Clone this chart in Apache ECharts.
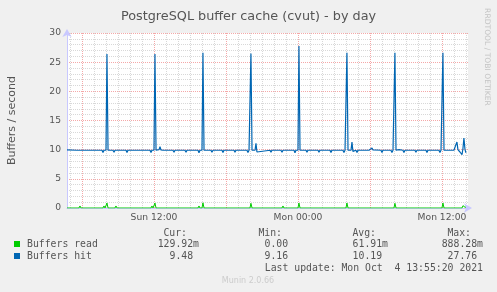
<!DOCTYPE html>
<html>
<head>
<meta charset="utf-8">
<script src="https://cdn.jsdelivr.net/npm/echarts@6/dist/echarts.min.js"></script>
<style>
html,body{margin:0;padding:0;background:#f0f0f0;}
#c{width:497px;height:292px;}
</style>
</head>
<body>
<div id="c"></div>
<script>
// x values are hours since Sun 00:00 (Oct 3, 2021)
const xMin = 4.75, xMax = 38.17;
const hourTicks = [5,6,7,8,9,10,11,12,13,14,15,16,17,18,19,20,21,22,23,24,25,26,27,28,29,30,31,32,33,34,35,36,37,38];
const majorTicks = [6,12,18,24,30,36];
const labelTicks = [12,24,36];
const labelTexts = ['Sun 12:00','Mon 00:00','Mon 12:00'];
const yTicks = [0,5,10,15,20,25,30];

const buffersRead = [
[4.75,0],[5.75,0],[5.83,0.35],[5.92,0],
[6.75,0],[6.83,0.12],[6.92,0],
[7.75,0],[7.83,0.35],[7.92,0],
[8.0,0],[8.08,0.85],[8.17,0],
[8.75,0],[8.83,0.35],[8.92,0],
[9.75,0],[9.83,0.3],[9.92,0],
[10.67,0],[10.75,0.3],[10.83,0],
[11.75,0],[11.83,0.35],[11.92,0],
[12.0,0],[12.08,0.85],[12.17,0],
[12.75,0],[12.83,0.3],[12.92,0],
[13.75,0],[13.83,0.3],[13.92,0],
[14.75,0],[14.83,0.3],[14.92,0],
[15.67,0],[15.75,0.35],[15.83,0],
[16.0,0],[16.08,0.89],[16.17,0],
[16.67,0],[16.75,0.3],[16.83,0],
[17.67,0],[17.75,0.3],[17.83,0],
[18.67,0],[18.75,0.3],[18.83,0],
[19.67,0],[19.75,0.3],[19.83,0],
[20.0,0],[20.08,0.8],[20.17,0],
[20.75,0],[20.83,0.3],[20.92,0],
[21.75,0],[21.83,0.3],[21.92,0],
[22.67,0],[22.75,0.35],[22.83,0],
[24.0,0],[24.08,0.85],[24.17,0],
[24.67,0],[24.75,0.3],[24.83,0],
[25.75,0],[25.83,0.3],[25.92,0],
[26.75,0],[26.83,0.3],[26.92,0],
[28.0,0],[28.08,0.85],[28.17,0],
[28.75,0],[28.83,0.3],[28.92,0],
[29.75,0],[29.83,0.3],[29.92,0],
[30.75,0],[30.83,0.3],[30.92,0],
[32.0,0],[32.08,0.8],[32.17,0],
[32.67,0],[32.75,0.3],[32.83,0],
[33.75,0],[33.83,0.3],[33.92,0],
[34.75,0],[34.83,0.3],[34.92,0],
[36.0,0],[36.08,0.85],[36.17,0],
[36.75,0],[36.83,0.3],[36.92,0],
[37.67,0],[37.75,0.4],[37.83,0.35],[37.92,0.13],[38.0,0.13]
];

const buffersHit = [
[4.75,9.95],[5.58,9.9],[5.67,9.7],[5.75,9.9],
[6.58,9.9],[6.67,9.75],[6.75,9.9],
[7.67,9.9],[7.75,9.5],[7.83,9.9],
[8.0,9.9],[8.08,26.4],[8.17,9.9],
[8.58,9.9],[8.67,9.55],[8.75,9.9],
[9.67,9.9],[9.75,9.5],[9.83,9.9],
[10.67,9.9],[10.75,9.65],[10.83,9.9],
[11.67,9.9],[11.75,9.5],[11.83,9.9],
[12.0,9.9],[12.08,26.4],[12.17,9.9],
[12.42,10.0],[12.5,10.5],[12.58,9.95],
[12.75,9.9],[12.83,9.6],[12.92,9.9],
[13.58,9.9],[13.67,9.55],[13.75,9.9],
[14.58,9.9],[14.67,9.55],[14.75,9.9],
[15.67,9.9],[15.75,9.45],[15.83,9.9],
[16.0,9.9],[16.08,26.6],[16.17,9.9],
[16.75,9.9],[16.83,9.55],[16.92,9.9],
[17.67,9.9],[17.75,9.5],[17.83,9.9],
[18.67,9.9],[18.75,9.55],[18.83,9.9],
[19.75,9.9],[19.83,9.5],[19.92,9.9],
[20.0,9.9],[20.08,26.5],[20.17,9.9],
[20.42,9.9],[20.5,11.1],[20.58,9.6],[20.67,9.9],
[21.67,9.9],[21.75,9.55],[21.83,9.9],
[22.58,9.9],[22.67,9.55],[22.75,9.9],
[23.67,9.9],[23.75,9.45],[23.83,9.9],
[24.0,9.9],[24.08,27.76],[24.17,9.9],
[24.67,9.9],[24.75,9.55],[24.83,9.9],
[25.67,9.9],[25.75,9.55],[25.83,9.9],
[26.67,9.9],[26.75,9.5],[26.83,9.9],
[27.75,9.9],[27.83,9.5],[27.92,9.9],
[28.0,9.9],[28.08,26.6],[28.17,9.9],
[28.42,9.9],[28.5,11.3],[28.58,9.7],[28.67,9.9],
[28.83,9.9],[28.92,9.5],[29.0,9.9],
[29.75,9.9],[29.83,10.1],[29.92,9.9],
[30.08,10.0],[30.17,10.3],[30.25,9.95],
[30.92,9.9],[31.0,9.5],[31.08,9.9],
[31.75,9.9],[31.83,9.5],[31.92,9.9],
[32.0,9.9],[32.08,26.6],[32.17,9.9],
[32.42,10.0],[32.5,10.2],[32.58,9.9],
[32.75,9.9],[32.83,9.5],[32.92,9.9],
[33.75,9.9],[33.83,9.55],[33.92,9.9],
[34.67,9.9],[34.75,9.5],[34.83,9.9],
[35.75,9.9],[35.83,9.5],[35.92,9.9],
[36.0,9.9],[36.08,26.6],[36.17,9.9],
[36.67,9.9],[36.75,9.6],[36.83,9.9],
[37.0,9.9],[37.17,10.9],[37.25,11.3],[37.33,10.0],[37.42,10.3],[37.5,9.6],[37.58,9.7],[37.67,9.16],[37.75,10.2],[37.83,12.0],[37.92,10.0],[38.0,9.48]
];

const legendNames = ['Buffers read','Buffers hit'];
const legendColors = ['#00cc00','#0066b3'];
const statHeaders = ['Cur:','Min:','Avg:','Max:'];
const statsRead = ['129.92m','0.00 ','61.91m','888.28m'];
const statsHit = ['9.48 ','9.16 ','10.19 ','27.76 '];
const lastUpdate = 'Last update: Mon Oct  4 13:55:20 2021';

const chart = echarts.init(document.getElementById('c'), null, {renderer:'canvas'});
const mono = 'DejaVu Sans Mono';
const sans = 'DejaVu Sans';
const txtCol = '#555555';
const colRight = [199, 294, 388, 483];

const graphics = [];
statHeaders.forEach((h,i)=>{
  graphics.push({type:'text', x: colRight[i]-12, y:233, style:{text:h, fontFamily:mono, fontSize:9.8, fill:txtCol, textAlign:'right', align:'right', textVerticalAlign:'middle', verticalAlign:'middle'}});
});
[statsRead, statsHit].forEach((row,r)=>{
  const y = r===0 ? 244 : 256;
  graphics.push({type:'rect', shape:{x:14, y:y-3, width:6, height:6}, style:{fill:legendColors[r]}});
  graphics.push({type:'text', x:27, y:y, style:{text:legendNames[r], fontFamily:mono, fontSize:9.8, fill:txtCol, textAlign:'left', align:'left', textVerticalAlign:'middle', verticalAlign:'middle'}});
  row.forEach((v,i)=>{
    graphics.push({type:'text', x:colRight[i], y:y, style:{text:v, fontFamily:mono, fontSize:9.8, fill:txtCol, textAlign:'right', align:'right', textVerticalAlign:'middle', verticalAlign:'middle'}});
  });
});
graphics.push({type:'text', x:483, y:268.5, style:{text:lastUpdate, fontFamily:mono, fontSize:9.8, fill:txtCol, textAlign:'right', align:'right', textVerticalAlign:'middle', verticalAlign:'middle'}});
graphics.push({type:'text', x:248, y:281, style:{text:'Munin 2.0.66', fontFamily:sans, fontSize:8, fill:'#cccccc', textAlign:'center', align:'center', textVerticalAlign:'middle', verticalAlign:'middle'}});
graphics.push({type:'text', x:487, y:57, rotation:-Math.PI/2, style:{text:'RRDTOOL / TOBI OETIKER', fontFamily:sans, fontSize:7.6, fill:'#c4c4c4', textAlign:'center', align:'center', textVerticalAlign:'middle', verticalAlign:'middle'}});

const axisCol = '#c8c8ff';
chart.setOption({
  animation:false,
  backgroundColor:'#f0f0f0',
  title:{text:'PostgreSQL buffer cache (cvut) - by day', left:'center', top:5,
    textStyle:{fontFamily:sans, fontSize:12.8, fontWeight:'normal', color:txtCol}},
  grid:{left:67, right:29, top:33, bottom:84, show:true, backgroundColor:'#ffffff', borderWidth:0,
    containLabel:false, outerBoundsMode:'none'},
  xAxis:[{
    type:'value', min:xMin, max:xMax,
    axisLine:{show:true, lineStyle:{color:axisCol, width:1}, symbol:['none','arrow'], symbolSize:[7,8], symbolOffset:[0,4]},
    axisTick:{show:false, customValues:hourTicks},
    axisLabel:{show:false},
    splitLine:{show:true, lineStyle:{color:'#d8d8d8', type:[1,1], width:1}}
  },{
    type:'value', min:xMin, max:xMax, position:'bottom',
    axisLine:{show:false},
    axisTick:{show:false, customValues:majorTicks},
    axisLabel:{show:true, customValues:labelTicks, margin:5, color:txtCol, fontFamily:sans, fontSize:9.2,
      formatter:(v)=>{const i=labelTicks.indexOf(Math.round(v)); return i>=0?labelTexts[i]:'';}},
    splitLine:{show:true, lineStyle:{color:'#f4a8a8', type:[1,1], width:1}}
  }],
  yAxis:{
    type:'value', min:0, max:30, interval:5,
    name:'Buffers / second', nameLocation:'middle', nameRotate:90, nameGap:49,
    nameTextStyle:{fontFamily:sans, fontSize:11, color:txtCol},
    axisLine:{show:true, lineStyle:{color:axisCol, width:1}, symbol:['none','arrow'], symbolSize:[7,8], symbolOffset:[0,4]},
    axisTick:{show:false},
    axisLabel:{color:txtCol, fontFamily:sans, fontSize:9.2, margin:6},
    splitLine:{show:true, lineStyle:{color:'#f4a8a8', type:[1,1], width:1}},
    minorTick:{show:false, splitNumber:5},
    minorSplitLine:{show:true, lineStyle:{color:'#d8d8d8', type:[1,1], width:1}}
  },
  series:[
    {name:legendNames[0], type:'line', xAxisIndex:0, data:buffersRead, showSymbol:false, symbol:'none',
      lineStyle:{color:legendColors[0], width:1}, itemStyle:{color:legendColors[0]}, z:3},
    {name:legendNames[1], type:'line', xAxisIndex:0, data:buffersHit, showSymbol:false, symbol:'none',
      lineStyle:{color:legendColors[1], width:1.2}, itemStyle:{color:legendColors[1]}, z:4}
  ],
  graphic:graphics
});
</script>
</body>
</html>
